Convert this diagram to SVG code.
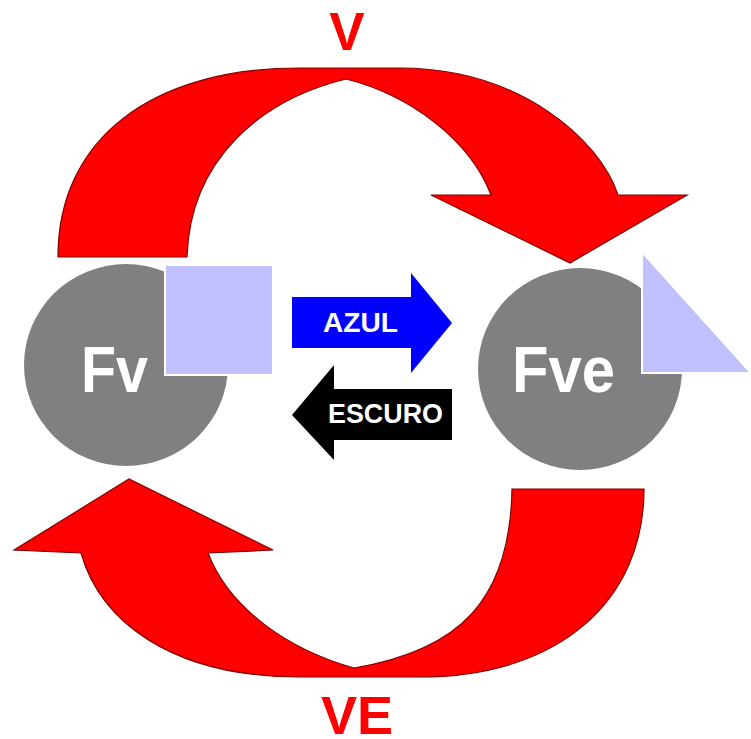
<svg xmlns="http://www.w3.org/2000/svg" width="751" height="739" viewBox="0 0 751 739">
<style>
.bg{fill:#FFFFFF}
.cycle{fill:#FF0000;stroke:#800000;stroke-width:1.2;stroke-linejoin:miter}
.lbl{font-family:"Liberation Sans",Arial,sans-serif;font-weight:bold;fill:#FF0000;text-anchor:middle}
.disc{fill:#808080}
.shape{fill:#C0C0FF;stroke:#FFFFFF;stroke-width:2}
.name{font-family:"Liberation Sans",Arial,sans-serif;font-size:64px;font-weight:bold;fill:#FFFFFF}
.tag{font-family:"Liberation Sans",Arial,sans-serif;font-size:27px;font-weight:bold;fill:#FFFFFF}
</style>
<rect class="bg" x="0" y="0" width="751" height="739"/>
<g id="connectors">
  <g id="arrow-V">
    <path class="cycle" d="M58,257 C58,140 150,68 300,68 L400,68 C520,68 600,140 618,195 L687,195 L570,263 L431,195 L491,195 C470,140 410,95 346,79 C260,100 190,160 187,257 Z"/>
    <text class="lbl" x="347" y="50" font-size="53">V</text>
  </g>
  <g id="arrow-VE">
    <path class="cycle" d="M644,489 L512,489 C510,600 460,650 354,668 C290,650 230,610 208,553 L273,550 L129,479 L14,550 L81,553 C100,620 170,677 300,677 L420,677 C560,677 644,600 644,489 Z"/>
    <text class="lbl" x="357" y="734" font-size="54">VE</text>
  </g>
  <g id="arrow-azul">
    <path fill="#0000FF" d="M292,297 L411,297 L411,273 L452,323 L411,373 L411,348 L292,348 Z"/>
    <text class="tag" x="323" y="332" textLength="75" lengthAdjust="spacingAndGlyphs">AZUL</text>
  </g>
  <g id="arrow-escuro">
    <path fill="#000000" d="M452,389 L334,389 L334,365 L292,415 L334,460 L334,440 L452,440 Z"/>
    <text class="tag" x="328" y="423" textLength="115" lengthAdjust="spacingAndGlyphs">ESCURO</text>
  </g>
</g>
<g id="node-Fv">
  <ellipse class="disc" cx="126" cy="365" rx="102" ry="101"/>
  <rect class="shape" x="165" y="265" width="108" height="110"/>
  <text class="name" x="81" y="392" textLength="67" lengthAdjust="spacingAndGlyphs">Fv</text>
</g>
<g id="node-Fve">
  <ellipse class="disc" cx="580" cy="369" rx="102" ry="101"/>
  <polygon class="shape" points="642,252 642,373 751,373"/>
  <text class="name" x="512" y="392" textLength="103" lengthAdjust="spacingAndGlyphs">Fve</text>
</g>
</svg>
